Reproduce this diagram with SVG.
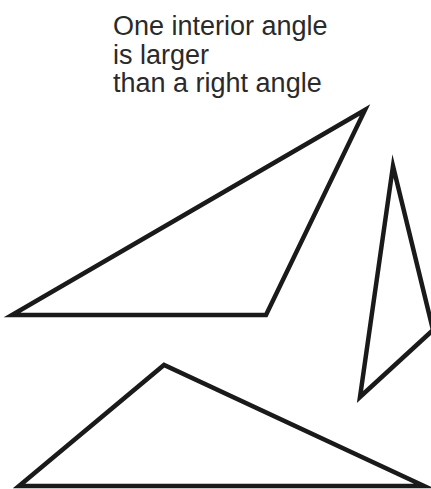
<svg xmlns="http://www.w3.org/2000/svg" width="431" height="489" viewBox="0 0 431 489">
<style>
.tri{fill:none;stroke:#1a1a1a;stroke-width:4.5;stroke-linejoin:miter;stroke-miterlimit:20}
.lbl{font-family:"Liberation Sans",Arial,sans-serif;font-size:27px;fill:#2a2a2a}
</style>
<rect width="431" height="489" fill="#fff"/>
<g id="label">
<text class="lbl" x="113" y="35">One interior angle</text>
<text class="lbl" x="113" y="63.5">is larger</text>
<text class="lbl" x="113" y="92">than a right angle</text>
</g>
<g id="triangle-top">
<polygon class="tri" points="12,315 266,315 365,110"/>
</g>
<g id="triangle-right">
<polygon class="tri" points="393,166 433,330 360,397"/>
</g>
<g id="triangle-bottom">
<polygon class="tri" points="19,486 424,486 164,365"/>
</g>
</svg>
